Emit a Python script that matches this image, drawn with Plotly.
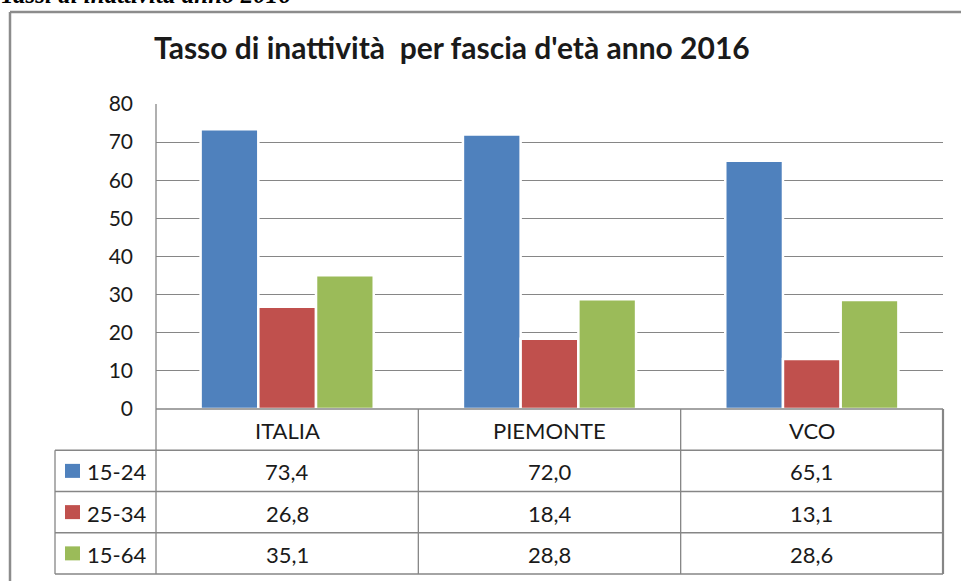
import plotly.graph_objects as go

# data
categories = ["ITALIA", "PIEMONTE", "VCO"]
fasce = ["15-24", "25-34", "15-64"]
val_15_24 = [73.4, 72.0, 65.1]
val_25_34 = [26.8, 18.4, 13.1]
val_15_64 = [35.1, 28.8, 28.6]
colori = ["#4F81BD", "#C0504D", "#9BBB59"]
y_ticks = [0, 10, 20, 30, 40, 50, 60, 70, 80]

series = [val_15_24, val_25_34, val_15_64]

W, H = 961, 581
L, R, T, B = 156, 943, 104, 409   # plot area in pixels
FONT = "Lato"
GRID = "#868686"
TXT = "#1a1a1a"


def px(x):
    return (x - L) / (R - L)


def py(y):
    return (B - y) / (B - T)


fig = go.Figure()
for name, vals, col in zip(fasce, series, colori):
    fig.add_trace(go.Bar(
        x=categories, y=vals, name=name,
        marker=dict(color=col, line=dict(color="white", width=2.5)),
        showlegend=False, hoverinfo="skip",
    ))

shapes = []
annotations = []

def line(x0, y0, x1, y1, w=1.3, c=GRID):
    shapes.append(dict(type="line", xref="paper", yref="paper",
                       x0=px(x0), y0=py(y0), x1=px(x1), y1=py(y1),
                       line=dict(color=c, width=w)))

def label(x, y, text, size=22, anchor="center", **font):
    annotations.append(dict(xref="paper", yref="paper", x=px(x), y=py(y),
                            xanchor=anchor, yanchor="middle", text=text,
                            showarrow=False,
                            font=dict(family=FONT, size=size, color=TXT, **font)))

# table under the chart
row_h = 41.25
rows_y = [B + k * row_h for k in range(5)]
col_w = (R - L) / len(categories)
cols_x = [L + k * col_w for k in range(len(categories) + 1)]
leg_x = 55

line(L, B, R, B)
for y in rows_y[1:]:
    line(leg_x, y, R, y)
line(leg_x, rows_y[1], leg_x, rows_y[-1])
line(L, T, L, rows_y[-1])
for x in cols_x[1:-1]:
    line(x, B, x, rows_y[-1])
line(R, B, R, rows_y[-1], w=2.2)

for i, cat in enumerate(categories):
    cx = (cols_x[i] + cols_x[i + 1]) / 2
    label(cx, (rows_y[0] + rows_y[1]) / 2 + 1, cat)
    for r, vals in enumerate(series):
        label(cx, (rows_y[r + 1] + rows_y[r + 2]) / 2 + 1,
              f"{vals[i]:.1f}".replace(".", ","))

for r, (name, col) in enumerate(zip(fasce, colori)):
    yc = (rows_y[r + 1] + rows_y[r + 2]) / 2
    shapes.append(dict(type="rect", xref="paper", yref="paper",
                       x0=px(65), x1=px(80), y0=py(yc - 7), y1=py(yc + 7),
                       fillcolor=col, line=dict(width=0)))
    label(85, yc + 1, name, anchor="left")

# outer frame of the chart object
line(10, 12, 1000, 12, w=2.5, c="#8c8c8c")
line(10, 12, 10, 620, w=2.5, c="#8c8c8c")

# caption from the document, cut at the top
annotations.append(dict(xref="paper", yref="paper", x=px(-2), y=py(10),
                        xanchor="left", yanchor="bottom",
                        text="Tassi di inattività anno 2016", showarrow=False,
                        font=dict(family="Liberation Serif", size=25, color="black",
                                  style="italic", weight="bold")))

# chart title
label(452, 47, "Tasso di inattività\u00a0 per fascia d'età anno 2016",
      size=30, weight="bold")

fig.update_layout(
    width=W, height=H,
    margin=dict(l=L, r=W - R, t=T, b=H - B),
    paper_bgcolor="white", plot_bgcolor="white",
    barmode="group", bargap=0.34, bargroupgap=0,
    shapes=shapes, annotations=annotations,
    xaxis=dict(showticklabels=False, showgrid=False, zeroline=False,
               range=[-0.5, 2.5]),
    yaxis=dict(range=[0, 80], tickvals=y_ticks, showgrid=True, gridcolor=GRID,
               gridwidth=1, zeroline=False, showline=False, ticks="",
               ticklabelstandoff=22,
               tickfont=dict(family=FONT, size=21, color=TXT)),
)

fig.write_html("out.html", config={"displayModeBar": False},
               post_script="document.body.style.margin='0';")
